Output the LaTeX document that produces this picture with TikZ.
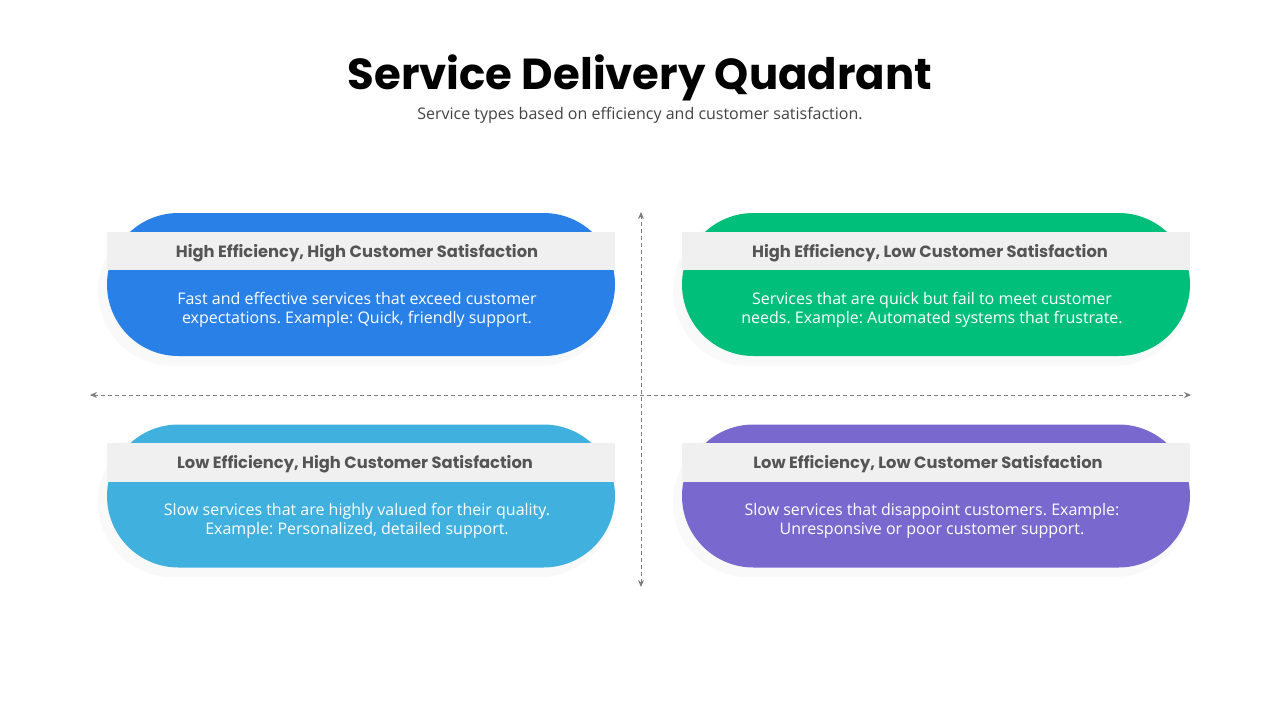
\documentclass[tikz,border=0pt]{standalone}
\usepackage{fontspec}
\setmainfont{Open Sans}
\newfontfamily\headfont{Poppins}
\usetikzlibrary{shapes.misc,arrows.meta}
\definecolor{qblue}{RGB}{41,128,230}
\definecolor{qgreen}{RGB}{0,191,122}
\definecolor{qcyan}{RGB}{64,177,222}
\definecolor{qpurple}{RGB}{121,105,206}
\definecolor{band}{RGB}{240,240,240}
\definecolor{headgray}{RGB}{85,85,85}
\definecolor{subgray}{RGB}{68,68,68}
\definecolor{axisgray}{RGB}{125,125,125}
\definecolor{shadowgray}{RGB}{249,249,249}
\tikzset{
  pill/.style={rounded rectangle, minimum width=508pt, minimum height=143pt, inner sep=0pt, draw=none},
  shadowpill/.style={rounded rectangle, minimum width=516pt, minimum height=150pt, inner sep=0pt, fill=shadowgray, draw=none},
  headtext/.style={font=\headfont\bfseries\fontsize{16.3}{19}\selectfont, text=headgray, inner sep=0pt},
  bodytext/.style={font=\frenchspacing\fontsize{16}{19}\selectfont, text=white, align=center, inner sep=0pt},
  axis/.style={draw=axisgray, line width=0.9pt, dash pattern=on 4pt off 3pt, {Stealth[length=7pt,width=6pt]}-{Stealth[length=7pt,width=6pt]}},
}
\begin{document}
\begin{tikzpicture}[x=1pt,y=-1pt]
\useasboundingbox (0,0) rectangle (1280,720);
\fill[white] (0,0) rectangle (1280,720);
% title
\node[font=\headfont\bfseries\fontsize{43.4}{50}\selectfont, text=black, inner sep=0pt] (title) at (640,78) {Service Delivery Quadrant};
\node[font=\fontsize{16}{19}\selectfont, text=subgray, inner sep=0pt] (subtitle) at (640,115) {Service types based on efficiency and customer satisfaction.};
% shadows
\node[shadowpill] (s1) at (356,291) {};
\node[shadowpill] (s2) at (931,291) {};
\node[shadowpill] (s3) at (356,502) {};
\node[shadowpill] (s4) at (931,502) {};
% pills
\node[pill, fill=qblue] (q1) at (361,284.5) {};
\node[pill, fill=qgreen] (q2) at (936,284.5) {};
\node[pill, fill=qcyan] (q3) at (361,496) {};
\node[pill, fill=qpurple] (q4) at (936,496) {};
% bands
\fill[band] (107,232) rectangle (615,270);
\fill[band] (682,232) rectangle (1190,270);
\fill[band] (107,443) rectangle (615,482);
\fill[band] (682,443) rectangle (1190,482);
% headers
\node[headtext] (h1) at (357,253) {High Efficiency, High Customer Satisfaction};
\node[headtext] (h2) at (930,253) {High Efficiency, Low Customer Satisfaction};
\node[headtext] (h3) at (355,464) {Low Efficiency, High Customer Satisfaction};
\node[headtext] (h4) at (928,464) {Low Efficiency, Low Customer Satisfaction};
% bodies
\node[bodytext] (b1) at (357,309.5) {Fast and effective services that exceed customer\\expectations. Example: Quick, friendly support.};
\node[bodytext] (b2) at (932,309.5) {Services that are quick but fail to meet customer\\needs. Example: Automated systems that frustrate.};
\node[bodytext] (b3) at (357,520.5) {Slow services that are highly valued for their quality.\\Example: Personalized, detailed support.};
\node[bodytext] (b4) at (932,520.5) {Slow services that disappoint customers. Example:\\Unresponsive or poor customer support.};
% axes
\coordinate (top) at (641,212);
\coordinate (bottom) at (641,587);
\coordinate (left) at (90,395);
\coordinate (right) at (1191,395);
\draw[axis] (left) -- (right);
\draw[axis] (bottom) -- (top);
\end{tikzpicture}
\end{document}
